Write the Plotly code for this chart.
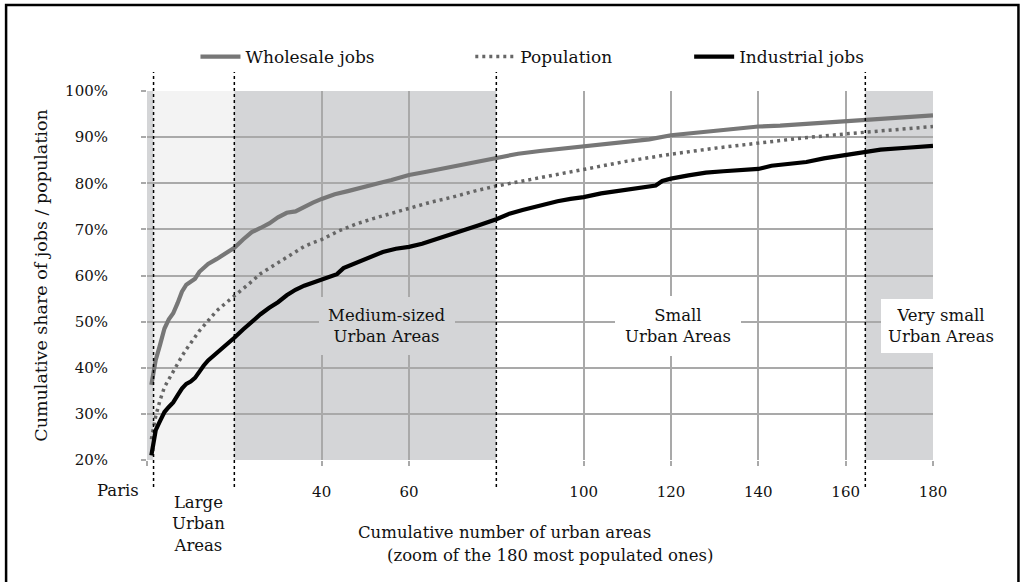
import plotly.graph_objects as go

# ---------------- data ----------------
wholesale_x = [1, 2, 3, 4, 5, 6, 7, 8, 9, 10, 11, 12, 14, 16, 18, 20, 22, 24, 26, 28, 30, 32, 34, 36,
               38, 40, 43, 46, 50, 53, 56, 60, 64, 68, 72, 76, 80, 85, 90, 95, 100, 105, 110, 115,
               120, 125, 130, 135, 140, 145, 150, 155, 160, 165, 170, 175, 180]
wholesale_y = [36.3, 41.7, 45.0, 48.5, 50.5, 51.8, 54.0, 56.5, 58.0, 58.6, 59.3, 60.8, 62.5, 63.6, 64.8,
               66.0, 67.8, 69.4, 70.3, 71.3, 72.6, 73.6, 73.9, 74.9, 75.8, 76.6, 77.6, 78.3, 79.4, 80.0,
               80.7, 81.8, 82.5, 83.2, 84.0, 84.7, 85.5, 86.4, 87.0, 87.5, 87.9, 88.4, 88.9, 89.5, 90.4,
               90.9, 91.4, 91.9, 92.3, 92.5, 92.8, 93.1, 93.3, 93.6, 93.9, 94.4, 94.7]

population_x = [1, 2, 3, 4, 5, 6, 7, 8, 9, 10, 12, 14, 16, 18, 20, 22, 24, 26, 28, 30, 32, 34, 36, 38,
                40, 44, 48, 52, 56, 60, 65, 70, 75, 80, 85, 90, 95, 100, 110, 120, 130, 140, 150,
                160, 170, 180]
population_y = [24.5, 29.5, 33.0, 35.8, 37.5, 39.3, 41.0, 42.5, 44.0, 45.3, 48.0, 50.2, 52.4, 54.0, 55.5,
                57.2, 58.7, 60.4, 61.6, 62.8, 64.0, 65.3, 66.3, 67.1, 67.8, 69.7, 71.2, 72.4, 73.5,
                74.7, 75.9, 77.0, 78.3, 79.4, 80.3, 81.3, 82.2, 83.1, 84.8, 86.3, 87.6, 88.7, 89.8,
                90.7, 91.5, 92.3]

industrial_x = [1, 2, 3, 4, 5, 6, 7, 8, 9, 10, 11, 12, 13, 14, 15, 16, 17, 18, 20, 22, 24, 26, 28, 30,
                32, 34, 36, 38, 40, 42, 43.5, 45, 48, 51, 54, 57, 60, 63, 66, 69, 72, 76, 80, 83, 86,
                90, 94, 97, 100, 104, 108, 112, 116.5, 118, 120, 124, 128, 132, 136, 140, 143, 147,
                151, 155, 160, 164, 168, 174, 180]
industrial_y = [21.0, 26.5, 28.5, 30.4, 31.5, 32.5, 34.0, 35.5, 36.5, 37.0, 37.8, 39.3, 40.5, 41.6, 42.4,
                43.2, 44.2, 45.0, 46.5, 48.3, 50.0, 51.6, 53.0, 54.2, 55.7, 56.9, 57.8, 58.5, 59.1,
                59.8, 60.3, 61.6, 62.8, 64.1, 65.1, 65.8, 66.2, 66.9, 67.8, 68.6, 69.6, 70.9, 72.2,
                73.4, 74.2, 75.2, 76.1, 76.6, 77.0, 77.8, 78.4, 78.8, 79.5, 80.5, 81.0, 81.7, 82.3,
                82.6, 82.8, 83.1, 83.8, 84.2, 84.6, 85.4, 86.1, 86.6, 87.3, 87.7, 88.1]

series_names = ["Wholesale jobs", "Population", "Industrial jobs"]

x_tickvals = [0, 40, 60, 100, 120, 140, 160, 180]
x_ticktext = ["", "40", "60", "100", "120", "140", "160", "180"]

# region boundaries (number of urban areas) and their labels
boundaries = [1.5, 20, 80, 164.5]
region_labels = ["Medium-sized<br>Urban Areas", "Small<br>Urban Areas", "Very small<br>Urban Areas"]

FONT = "DejaVu Serif"
GRID = "#a9a9a9"
MID_GREY = "#d4d5d7"
LIGHT_GREY = "#f3f3f3"
TXT = "#111111"

# plot-area geometry in pixels
L, R, T, B = 146.5, 933.0, 91.0, 460.0
PW, PH = R - L, B - T


def px(xp):
    return (xp - L) / PW


def py(yp):
    return (B - yp) / PH


fig = go.Figure()

fig.add_trace(go.Scatter(x=wholesale_x, y=wholesale_y, mode="lines", name=series_names[0],
                         line=dict(color="#777777", width=4.2), legend="legend"))
fig.add_trace(go.Scatter(x=population_x, y=population_y, mode="lines", name=series_names[1],
                         line=dict(color="#666666", width=3.5, dash="3px,4px"), legend="legend2"))
fig.add_trace(go.Scatter(x=industrial_x, y=industrial_y, mode="lines", name=series_names[2],
                         line=dict(color="#000000", width=4.2), legend="legend3"))

# background bands
bands = [(0, boundaries[0], MID_GREY), (boundaries[0], boundaries[1], LIGHT_GREY),
         (boundaries[1], boundaries[2], MID_GREY), (boundaries[3], 180, MID_GREY)]
for x0, x1, c in bands:
    fig.add_shape(type="rect", xref="x", yref="y", x0=x0, x1=x1, y0=20, y1=100,
                  fillcolor=c, line_width=0, layer="below")

# dashed boundaries
for b in boundaries:
    fig.add_shape(type="line", xref="x", yref="paper", x0=b, x1=b, y0=py(487), y1=py(72),
                  line=dict(color="black", width=1.5, dash="dot"), layer="above")

# region labels
lab_font = dict(family=FONT, size=16.5, color=TXT)
fig.add_annotation(x=px(387), y=py(326), xref="paper", yref="paper", text=region_labels[0],
                   showarrow=False, font=lab_font, bgcolor=MID_GREY, borderpad=9, borderwidth=0,
                   xanchor="center", yanchor="middle", align="center")
fig.add_annotation(x=px(678), y=py(326), xref="paper", yref="paper", text=region_labels[1],
                   showarrow=False, font=lab_font, bgcolor="white", borderpad=10, borderwidth=0,
                   xanchor="center", yanchor="middle", align="center")
fig.add_annotation(x=px(941), y=py(326), xref="paper", yref="paper", text=region_labels[2],
                   showarrow=False, font=lab_font, bgcolor="white", borderpad=7, borderwidth=0,
                   xanchor="center", yanchor="middle", align="center")

# bottom labels
fig.add_annotation(x=px(117), y=py(491), xref="paper", yref="paper", text="Paris", showarrow=False,
                   font=lab_font, xanchor="center", yanchor="middle")
fig.add_annotation(x=px(198), y=py(491), xref="paper", yref="paper", text="Large<br>Urban<br>Areas",
                   showarrow=False, font=lab_font, xanchor="center", yanchor="top", align="center")
fig.add_annotation(x=px(504), y=py(532), xref="paper", yref="paper",
                   text="Cumulative number of urban areas", showarrow=False,
                   font=lab_font, xanchor="center", yanchor="middle")
fig.add_annotation(x=px(550), y=py(555), xref="paper", yref="paper",
                   text="(zoom of the 180 most populated ones)", showarrow=False,
                   font=lab_font, xanchor="center", yanchor="middle")

# outer frame
fig.add_shape(type="rect", xref="paper", yref="paper",
              x0=px(5.5), x1=px(1018.5), y0=py(592), y1=py(5),
              line=dict(color="black", width=2.5), fillcolor="rgba(0,0,0,0)", layer="above")

legend_common = dict(orientation="h", yanchor="middle", y=py(57), xanchor="left",
                     font=dict(family=FONT, size=17, color=TXT), bgcolor="rgba(0,0,0,0)",
                     itemwidth=40)
fig.update_layout(
    width=1021, height=582,
    margin=dict(l=L, r=1021 - R, t=T, b=582 - B, autoexpand=False),
    paper_bgcolor="white", plot_bgcolor="white",
    font=dict(family=FONT, size=15, color=TXT),
    showlegend=True,
    legend=dict(legend_common, x=px(195)),
    legend2=dict(legend_common, x=px(470)),
    legend3=dict(legend_common, x=px(689)),
)
fig.update_xaxes(range=[0, 180], tickvals=x_tickvals, ticktext=x_ticktext,
                 showgrid=True, gridcolor=GRID, gridwidth=1.5, ticks="outside", ticklen=5,
                 tickcolor=GRID, tickwidth=1.5, zeroline=False, showline=False,
                 ticklabelstandoff=13, tickfont=dict(family=FONT, size=15, color=TXT))
fig.update_yaxes(range=[20, 100], dtick=10, ticksuffix="%", showgrid=True, gridcolor=GRID,
                 gridwidth=1.5, ticks="outside", ticklen=5, tickcolor=GRID, tickwidth=1.5,
                 zeroline=False, showline=False, ticklabelstandoff=30,
                 tickfont=dict(family=FONT, size=15, color=TXT),
                 title=dict(text="Cumulative share of jobs / population", standoff=12,
                            font=dict(family=FONT, size=17.5, color=TXT)))

fig.write_html("out.html", config={"displayModeBar": False},
               post_script="document.body.style.margin='0';document.body.style.padding='0';"
                           "document.body.style.overflow='hidden';")
